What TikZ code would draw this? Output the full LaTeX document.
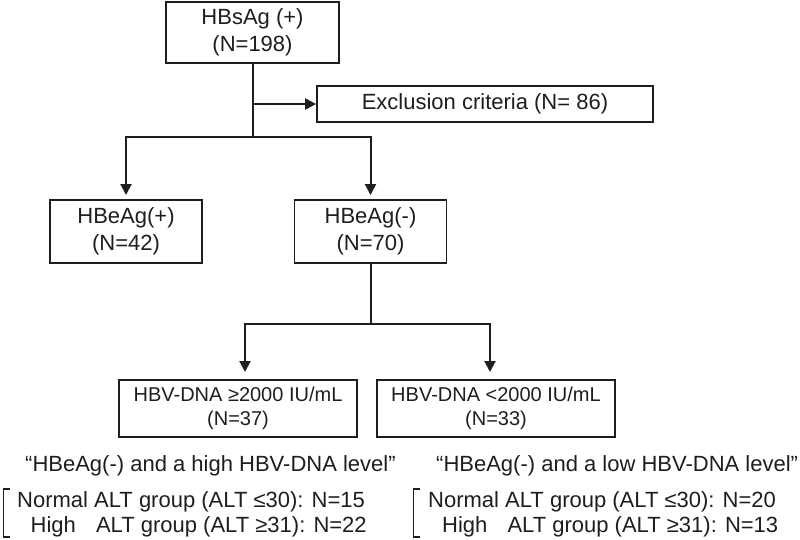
\documentclass[tikz,border=0pt]{standalone}
\usepackage{fontspec}
\setmainfont{Liberation Sans}
\usetikzlibrary{arrows.meta}
\definecolor{ink}{HTML}{1E1E1E}
\tikzset{
  box/.style={draw=ink, line width=1.7pt, inner sep=0pt, align=center, text=ink,
    font=\fontsize{22}{26.5}\selectfont},
  smallbox/.style={box, font=\fontsize{20}{23.5}\selectfont},
  conn/.style={draw=ink, line width=2pt},
  arr/.style={conn, -{Triangle[width=11pt,length=11pt]}},
  note/.style={anchor=base west, inner sep=0pt, text=ink, font=\fontsize{22}{26}\selectfont},
  brk/.style={draw=ink, line width=1.7pt}
}
\begin{document}
\begin{tikzpicture}[x=1pt,y=-1pt]
\useasboundingbox (0,0) rectangle (800,539);
\node[box, minimum width=173pt, minimum height=61pt] (top) at (252.5,32.5) {HBsAg (+)\\(N=198)};
\node[box, minimum width=336pt, minimum height=36pt] (excl) at (485,104) {Exclusion criteria (N= 86)};
\node[box, minimum width=152pt, minimum height=63pt] (hbp) at (126,231.5) {HBeAg(+)\\(N=42)};
\node[box, minimum width=152pt, minimum height=63pt] (hbn) at (370.5,231.5) {HBeAg(-)\\(N=70)};
\node[smallbox, minimum width=238pt, minimum height=57pt] (dl) at (238,408.5) {HBV-DNA ≥2000 IU/mL\\(N=37)};
\node[smallbox, minimum width=238pt, minimum height=57pt] (dr) at (496,408.5) {HBV-DNA <2000 IU/mL\\(N=33)};

\coordinate (e1) at (252.5,104);
\coordinate (j1) at (252.5,137);
\coordinate (t1) at (126,195);
\coordinate (t2) at (370.5,195);
\coordinate (j2) at (370.5,324);
\coordinate (t3) at (245,372);
\coordinate (t4) at (490,372);

\draw[conn] (top.south) -- (j1);
\draw[arr] (e1) -- (excl.west);
\draw[arr] (j1) -| (t1);
\draw[arr] (j1) -| (t2);
\draw[conn] (hbn.south) -- (j2);
\draw[arr] (j2) -| (t3);
\draw[arr] (j2) -| (t4);

\node[note] (q1) at (25,471) {“HBeAg(-) and a high HBV-DNA level”};
\node[note] (q2) at (436,471) {“HBeAg(-) and a low HBV-DNA level”};
\node[note] (n1) at (17,507) {Normal ALT group (ALT ≤30): N=15};
\node[note] (h1) at (30.5,532) {High\hspace{14pt} ALT group (ALT ≥31): N=22};
\node[note] (n2) at (428,507) {Normal ALT group (ALT ≤30): N=20};
\node[note] (h2) at (442,532) {High\hspace{14pt} ALT group (ALT ≥31): N=13};

\draw[brk] (10,489) -- (3.5,489) -- (3.5,537) -- (10,537);
\draw[brk] (420,489) -- (413.5,489) -- (413.5,537) -- (420,537);
\end{tikzpicture}
\end{document}
